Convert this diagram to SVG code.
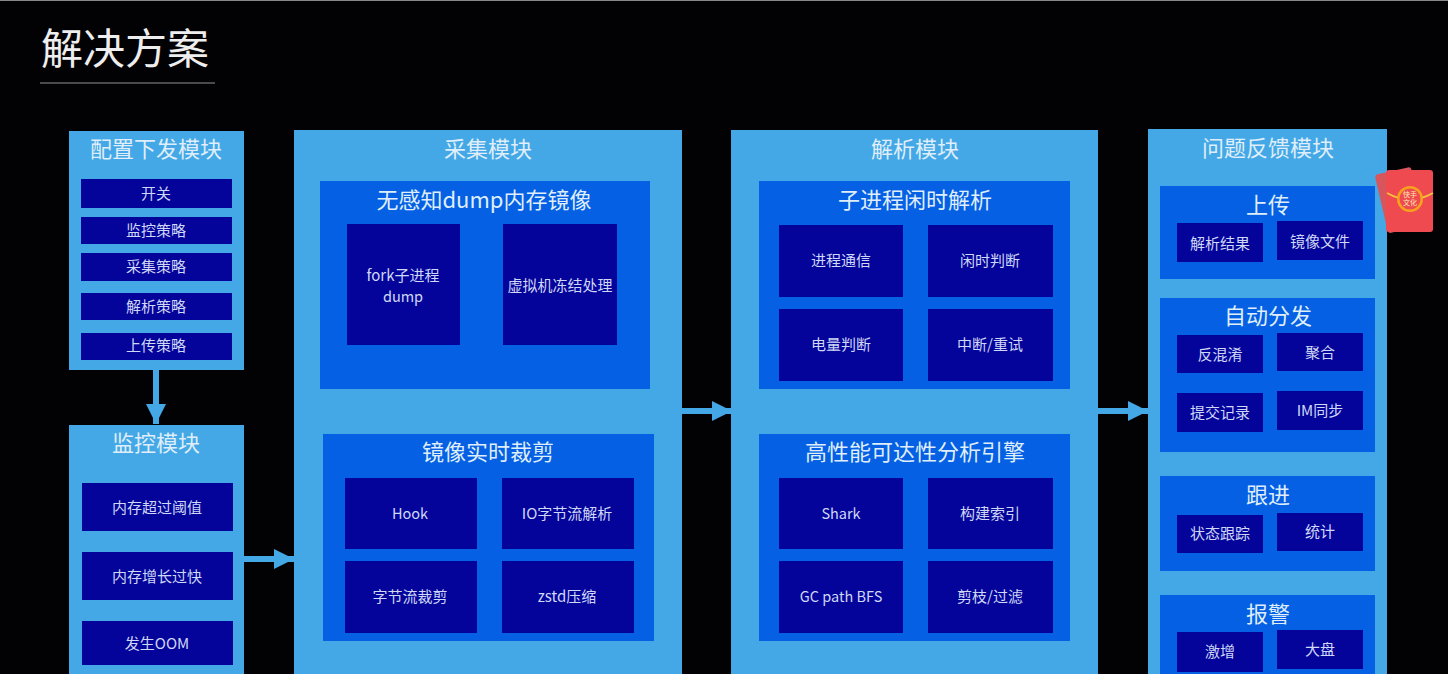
<svg xmlns="http://www.w3.org/2000/svg" width="1448" height="674" viewBox="0 0 1448 674">
<style>
text{font-family:"Noto Sans CJK SC","Liberation Sans",sans-serif;fill:#dfeefa;text-anchor:middle}
.o{fill:#45a8e6}.m{fill:#0560e4}.t{fill:#04039a}
.h{font-size:22px}.s{font-size:23px}.l{font-size:15px;fill:#cfd8f5}.e{font-size:14.5px;fill:#cfd8f5}
.c{stroke:#45a8e6;stroke-width:6;fill:none;marker-end:url(#a)}
</style>
<defs><marker id="a" markerUnits="userSpaceOnUse" markerWidth="22" markerHeight="22" refX="20" refY="10" orient="auto"><path d="M0 0L20 10L0 20Z" fill="#45a8e6"/></marker></defs>
<rect width="1448" height="674" fill="#020205"/>
<rect width="1448" height="1" fill="#888"/>
<g id="title"><text x="125" y="64" font-size="42" fill="#eee" style="fill:#eeeeee">解决方案</text><rect x="40" y="82" width="175" height="2" fill="#4a4a4e"/></g>
<g id="config"><rect class="o" x="69" y="131" width="175" height="239"/><text class="h" x="156" y="157">配置下发模块</text>
<rect class="t" x="81" y="179" width="151" height="29"/><text class="l" x="156" y="199">开关</text>
<rect class="t" x="81" y="217" width="151" height="27"/><text class="l" x="156" y="236">监控策略</text>
<rect class="t" x="81" y="253" width="151" height="28"/><text class="l" x="156" y="272">采集策略</text>
<rect class="t" x="81" y="293" width="151" height="27"/><text class="l" x="156" y="312">解析策略</text>
<rect class="t" x="81" y="333" width="151" height="27"/><text class="l" x="156" y="351">上传策略</text></g>
<g id="monitor"><rect class="o" x="69" y="425" width="175" height="249"/><text class="h" x="156" y="451">监控模块</text>
<rect class="t" x="82" y="483" width="151" height="48"/><text class="l" x="157" y="513">内存超过阈值</text>
<rect class="t" x="82" y="552" width="151" height="48"/><text class="l" x="157" y="582">内存增长过快</text>
<rect class="t" x="82" y="621" width="151" height="44"/><text class="l" x="157" y="649">发生OOM</text></g>
<g id="collect"><rect class="o" x="294" y="130" width="388" height="544"/><text class="h" x="488" y="157">采集模块</text>
<rect class="m" x="320" y="181" width="330" height="208"/><text class="h" x="484" y="208">无感知dump内存镜像</text>
<rect class="t" x="347" y="224" width="113" height="121"/><text class="l" x="403" y="281">fork子进程</text><text class="e" x="403" y="302">dump</text>
<rect class="t" x="503" y="224" width="114" height="121"/><text class="l" x="560" y="291">虚拟机冻结处理</text>
<rect class="m" x="323" y="434" width="331" height="207"/><text class="h" x="488" y="460">镜像实时裁剪</text>
<rect class="t" x="345" y="478" width="132" height="71"/><text class="e" x="410" y="519">Hook</text>
<rect class="t" x="502" y="478" width="132" height="71"/><text class="l" x="567" y="519">IO字节流解析</text>
<rect class="t" x="345" y="561" width="132" height="72"/><text class="l" x="410" y="602">字节流裁剪</text>
<rect class="t" x="502" y="561" width="132" height="72"/><text class="l" x="567" y="602">zstd压缩</text></g>
<g id="parse"><rect class="o" x="731" y="130" width="367" height="544"/><text class="h" x="915" y="157">解析模块</text>
<rect class="m" x="759" y="181" width="311" height="208"/><text class="h" x="915" y="208">子进程闲时解析</text>
<rect class="t" x="779" y="225" width="124" height="72"/><text class="l" x="841" y="266">进程通信</text>
<rect class="t" x="928" y="225" width="125" height="72"/><text class="l" x="990" y="266">闲时判断</text>
<rect class="t" x="779" y="309" width="124" height="72"/><text class="l" x="841" y="350">电量判断</text>
<rect class="t" x="928" y="309" width="125" height="72"/><text class="l" x="990" y="350">中断/重试</text>
<rect class="m" x="759" y="434" width="311" height="207"/><text class="h" x="915" y="460">高性能可达性分析引擎</text>
<rect class="t" x="779" y="478" width="124" height="71"/><text class="e" x="841" y="519">Shark</text>
<rect class="t" x="928" y="478" width="125" height="71"/><text class="l" x="990" y="519">构建索引</text>
<rect class="t" x="779" y="561" width="124" height="72"/><text class="e" x="841" y="602">GC path BFS</text>
<rect class="t" x="928" y="561" width="125" height="72"/><text class="l" x="990" y="602">剪枝/过滤</text></g>
<g id="feedback"><rect class="o" x="1148" y="129" width="239" height="545"/><text class="h" x="1268" y="156">问题反馈模块</text>
<rect class="m" x="1160" y="186" width="215" height="93"/><text class="h" x="1268" y="213">上传</text>
<rect class="t" x="1177" y="223" width="86" height="39"/><text class="l" x="1220" y="249">解析结果</text>
<rect class="t" x="1277" y="221" width="86" height="39"/><text class="l" x="1320" y="247">镜像文件</text>
<rect class="m" x="1160" y="298" width="215" height="154"/><text class="h" x="1268" y="324">自动分发</text>
<rect class="t" x="1177" y="335" width="86" height="38"/><text class="l" x="1220" y="360">反混淆</text>
<rect class="t" x="1277" y="333" width="86" height="38"/><text class="l" x="1320" y="358">聚合</text>
<rect class="t" x="1177" y="393" width="86" height="39"/><text class="l" x="1220" y="418">提交记录</text>
<rect class="t" x="1277" y="391" width="86" height="39"/><text class="l" x="1320" y="416">IM同步</text>
<rect class="m" x="1160" y="476" width="215" height="95"/><text class="h" x="1268" y="503">跟进</text>
<rect class="t" x="1177" y="515" width="86" height="38"/><text class="l" x="1220" y="539">状态跟踪</text>
<rect class="t" x="1277" y="513" width="86" height="38"/><text class="l" x="1320" y="537">统计</text>
<rect class="m" x="1160" y="595" width="215" height="79"/><text class="h" x="1268" y="622">报警</text>
<rect class="t" x="1177" y="632" width="86" height="40"/><text class="l" x="1220" y="657">激增</text>
<rect class="t" x="1277" y="630" width="86" height="39"/><text class="l" x="1320" y="655">大盘</text></g>
<g id="connectors">
<path class="c" d="M156 370V424"/>
<path class="c" d="M244 559H294"/>
<path class="c" d="M682 411H732"/>
<path class="c" d="M1098 411H1148"/>
</g>
<g id="badge">
<rect x="1381" y="170" width="37" height="60" rx="3" fill="#d9555c" transform="rotate(-13 1400 200)"/>
<rect x="1386" y="170" width="47" height="62" rx="3" fill="#ee4a4f"/>
<path d="M1387 193Q1410 206 1433 193" fill="none" stroke="#f6c23e" stroke-width="2"/>
<circle cx="1410" cy="199" r="13" fill="#f8a21e"/><circle cx="1410" cy="199" r="10.5" fill="#ee4a4f"/>
<text x="1410" y="197" font-size="7" style="fill:#ffe9b0">快手</text><text x="1410" y="205" font-size="7" style="fill:#ffe9b0">文化</text>
</g>
</svg>
